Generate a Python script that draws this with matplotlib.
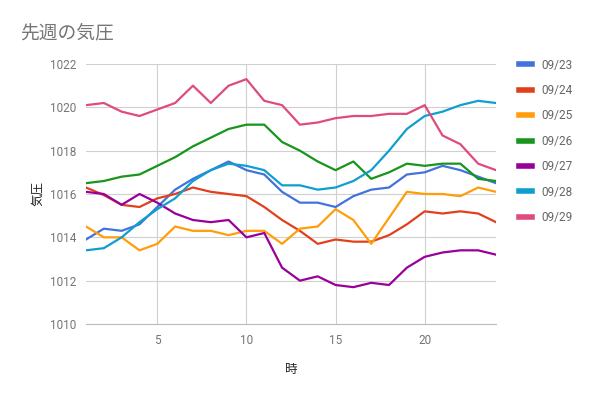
import numpy as np
import matplotlib.pyplot as plt

plt.rcParams['font.family'] = ['Roboto', 'Noto Sans CJK JP', 'DejaVu Sans']

# hourly pressure readings (hPa), hours 1..24
hours = list(range(1, 25))
days = ['09/23', '09/24', '09/25', '09/26', '09/27', '09/28', '09/29']
p_0923 = [1013.9, 1014.4, 1014.3, 1014.6, 1015.4, 1016.2, 1016.7, 1017.1, 1017.5, 1017.1, 1016.9, 1016.1,
          1015.6, 1015.6, 1015.4, 1015.9, 1016.2, 1016.3, 1016.9, 1017.0, 1017.3, 1017.1, 1016.8, 1016.5]
p_0924 = [1016.3, 1015.95, 1015.5, 1015.4, 1015.8, 1016.0, 1016.3, 1016.1, 1016.0, 1015.9, 1015.4, 1014.8,
          1014.3, 1013.7, 1013.9, 1013.8, 1013.8, 1014.1, 1014.6, 1015.2, 1015.1, 1015.2, 1015.1, 1014.7]
p_0925 = [1014.5, 1014.0, 1014.0, 1013.4, 1013.7, 1014.5, 1014.3, 1014.3, 1014.1, 1014.3, 1014.3, 1013.7,
          1014.4, 1014.5, 1015.3, 1014.8, 1013.7, 1014.9, 1016.1, 1016.0, 1016.0, 1015.9, 1016.3, 1016.1]
p_0926 = [1016.5, 1016.6, 1016.8, 1016.9, 1017.3, 1017.7, 1018.2, 1018.6, 1019.0, 1019.2, 1019.2, 1018.4,
          1018.0, 1017.5, 1017.1, 1017.5, 1016.7, 1017.0, 1017.4, 1017.3, 1017.4, 1017.4, 1016.7, 1016.6]
p_0927 = [1016.1, 1016.0, 1015.5, 1016.0, 1015.6, 1015.1, 1014.8, 1014.7, 1014.8, 1014.0, 1014.2, 1012.6,
          1012.0, 1012.2, 1011.8, 1011.7, 1011.9, 1011.8, 1012.6, 1013.1, 1013.3, 1013.4, 1013.4, 1013.2]
p_0928 = [1013.4, 1013.5, 1014.0, 1014.7, 1015.3, 1015.8, 1016.6, 1017.1, 1017.4, 1017.3, 1017.1, 1016.4,
          1016.4, 1016.2, 1016.3, 1016.6, 1017.1, 1018.0, 1019.0, 1019.6, 1019.8, 1020.1, 1020.3, 1020.2]
p_0929 = [1020.1, 1020.2, 1019.8, 1019.6, 1019.9, 1020.2, 1021.0, 1020.2, 1021.0, 1021.3, 1020.3, 1020.1,
          1019.2, 1019.3, 1019.5, 1019.6, 1019.6, 1019.7, 1019.7, 1020.1, 1018.7, 1018.3, 1017.4, 1017.1]
series = [p_0923, p_0924, p_0925, p_0926, p_0927, p_0928, p_0929]
colors = ['#4272db', '#e2401c', '#ff9d0a', '#17951c', '#980099', '#0f9fcf', '#df4b7c']

fig = plt.figure(figsize=(5.91, 3.97), dpi=100)
ax = fig.add_axes([86/591, 1 - 324/397, 410/591, 260/397])

for day, vals, c in zip(days, series, colors):
	ax.plot(hours, vals, color=c, lw=1.6, label=day)

ax.set_xlim(1, 24)
ax.set_ylim(1010, 1022)
ax.set_xticks([5, 10, 15, 20])
ax.set_yticks(np.arange(1010, 1023, 2))
ax.grid(True, color='#d0d0d0', lw=0.8)
ax.set_axisbelow(True)
for s in ['top', 'right', 'left']:
	ax.spines[s].set_visible(False)
ax.spines['bottom'].set_color('#bbbbbb')
ax.tick_params(length=0, labelsize=8.5, labelcolor='#757575', pad=7)

ax.set_xlabel('時', fontsize=9, color='#222222', labelpad=12)
ax.set_ylabel('気圧', fontsize=9, color='#222222')
ax.yaxis.set_label_coords(-42/410, 0.5)

fig.text(20/591, 1 - 33/397, '先週の気圧', fontsize=13.5, color='#757575', va='center', ha='left')

leg = fig.legend(loc='upper left', bbox_to_anchor=(508/591, 1 - 48/397), frameon=False,
		fontsize=8.5, handlelength=1.1, handletextpad=0.8, labelspacing=1.05)
for t in leg.get_texts():
	t.set_color('#666666')
for h in leg.get_lines():
	h.set_linewidth(4)

fig.savefig('out.png', dpi=100)
